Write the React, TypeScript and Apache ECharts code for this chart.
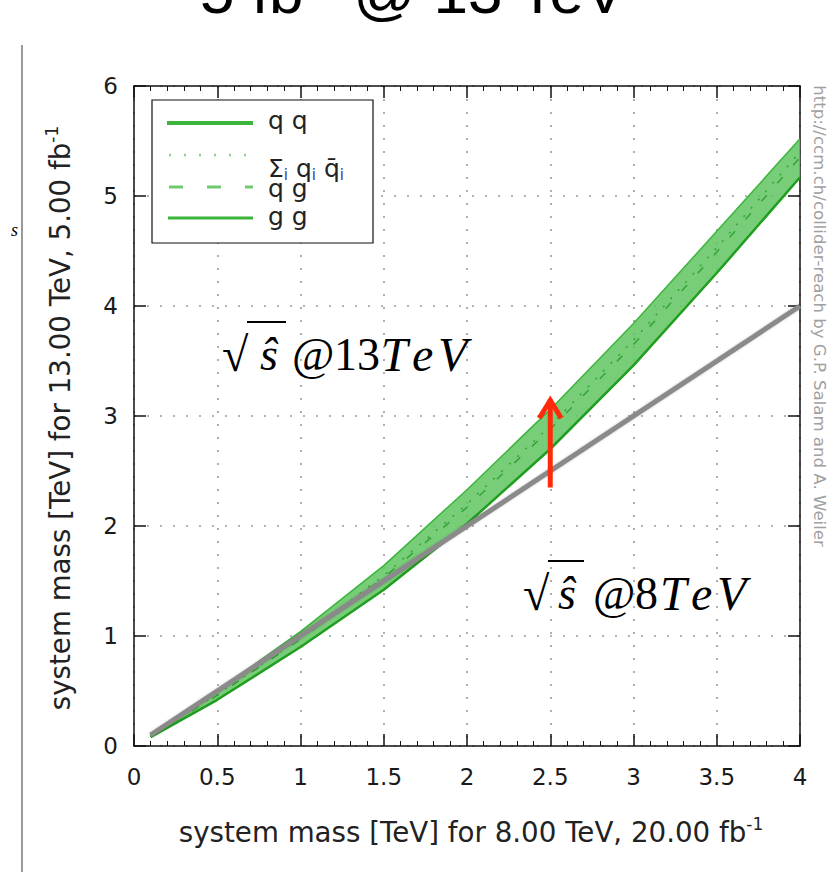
import React, { useEffect, useRef } from 'react';
import * as echarts from 'echarts';

// ---- data ----
const massX8 = [0.1, 0.5, 1.0, 1.5, 2.0, 2.5, 3.0, 3.5, 4.0];
const qqUpper = [0.1, 0.5, 1.04, 1.64, 2.33, 3.06, 3.84, 4.68, 5.52];
const ggLower = [0.08, 0.42, 0.9, 1.42, 2.02, 2.7, 3.46, 4.3, 5.17];
const qgMid = [0.09, 0.46, 0.97, 1.53, 2.17, 2.88, 3.65, 4.49, 5.35];
const sumQQbar = [0.09, 0.47, 0.98, 1.55, 2.2, 2.91, 3.69, 4.53, 5.4];
const refX = [0.1, 4.0];
const refY = [0.1, 4.0];
const arrowX = 2.5;
const arrowFrom = 2.35;
const arrowTo = 3.17;
const xTicks = [0, 0.5, 1, 1.5, 2, 2.5, 3, 3.5, 4];
const yTicks = [0, 1, 2, 3, 4, 5, 6];

const GREEN_FILL = 'rgba(96, 198, 96, 0.85)';
const GREEN_DARK = '#1f9e1f';
const GREEN_LINE = '#3bb53b';
const AX = '#111';
const FONT = 'DejaVu Sans';
const SERIF = 'Liberation Serif';

const pairs = (xs: number[], ys: number[]) => xs.map((x, i) => [x, ys[i]]);

const tok = (size: number, width: number, italic = false) => ({
  fontSize: size, fontFamily: SERIF, fontStyle: italic ? 'italic' : 'normal', fill: '#000', width, lineHeight: 56,
});
const anno13Rich = {
  q: tok(48, 38), s: tok(46, 32, true), at: tok(46, 42), n: tok(46, 47),
  T: tok(48, 31, true), e: tok(48, 26, true), V: tok(48, 40, true),
};
const anno8Rich = {
  q: tok(48, 35), s: tok(46, 35, true), at: tok(46, 42), n: tok(46, 25),
  T: tok(48, 31, true), e: tok(48, 26, true), V: tok(48, 40, true),
};

export default function App() {
  const ref = useRef<HTMLDivElement>(null);
  useEffect(() => {
    const chart = echarts.init(ref.current!, null, { renderer: 'svg' });
    const axisLine = { show: true, onZero: false, lineStyle: { color: AX, width: 1.5 } };
    const tick = { show: true, inside: true, length: 12, lineStyle: { color: AX, width: 1.5 } };
    const xMinor = { show: true, splitNumber: 5, length: 5, lineStyle: { color: AX, width: 1 } };
    const grid = { show: true, lineStyle: { color: '#9a9a9a', type: [2, 11], width: 1.6 } };
    const labelStyle = { fontSize: 23, fontFamily: FONT, color: '#1a1a1a' };
    const nameRich = {
      a: { fontSize: 27.7, fontFamily: FONT, fill: '#222', lineHeight: 34 },
      s: { fontSize: 17, fontFamily: FONT, fill: '#222', verticalAlign: 'top', lineHeight: 34 },
    };
    const legText = { fontFamily: FONT, fontSize: 25, fill: '#222', verticalAlign: 'middle' };
    const option: any = {
      animation: false,
      backgroundColor: '#ffffff',
      grid: { left: 134, right: 36, top: 86, bottom: 139, containLabel: false },
      xAxis: [
        {
          type: 'value', min: xTicks[0], max: xTicks[xTicks.length - 1], interval: 0.5, position: 'bottom',
          axisLine, axisTick: tick, minorTick: xMinor, splitLine: grid,
          axisLabel: { ...labelStyle, margin: 19, formatter: (v: number) => String(v) },
        },
        {
          type: 'value', min: xTicks[0], max: xTicks[xTicks.length - 1], interval: 0.5, position: 'top',
          axisLine, axisTick: tick, minorTick: xMinor, splitLine: { show: false }, axisLabel: { show: false },
        },
      ],
      yAxis: [
        {
          type: 'value', min: yTicks[0], max: yTicks[yTicks.length - 1], interval: 1, position: 'left',
          axisLine, axisTick: tick, splitLine: grid,
          axisLabel: { ...labelStyle, margin: 16 },
        },
        {
          type: 'value', min: yTicks[0], max: yTicks[yTicks.length - 1], interval: 1, position: 'right',
          axisLine, axisTick: tick, splitLine: { show: false }, axisLabel: { show: false },
        },
      ],
      series: [
        {
          name: 'band', type: 'custom', z: 2, silent: true, clip: true,
          data: [[massX8[0], ggLower[0]]],
          renderItem: (params: any, api: any) => {
            const top = massX8.map((x, i) => api.coord([x, qqUpper[i]]));
            const bot = massX8.map((x, i) => api.coord([x, ggLower[i]])).reverse();
            return { type: 'polygon', shape: { points: top.concat(bot) }, style: { fill: GREEN_FILL, stroke: 'none' } };
          },
        },
        {
          name: 'q q', type: 'line', data: pairs(massX8, qqUpper), symbol: 'none',
          lineStyle: { color: GREEN_LINE, width: 1.5 }, z: 3,
        },
        {
          name: 'Σ qq̄', type: 'line', data: pairs(massX8, sumQQbar), symbol: 'none',
          lineStyle: { color: '#35a335', width: 1.5, type: [2, 9] }, z: 3,
        },
        {
          name: 'q g', type: 'line', data: pairs(massX8, qgMid), symbol: 'none',
          lineStyle: { color: '#35a335', width: 1.5, type: [8, 16] }, z: 3,
        },
        {
          name: 'g g', type: 'line', data: pairs(massX8, ggLower), symbol: 'none',
          lineStyle: { color: GREEN_DARK, width: 2.5 }, z: 3,
        },
        {
          name: '8 TeV', type: 'line', data: pairs(refX, refY), symbol: 'none',
          lineStyle: { color: '#8a8a8a', width: 5, shadowColor: 'rgba(0,0,0,0.25)', shadowBlur: 2 }, z: 4,
        },
        {
          name: 'arrow', type: 'custom', z: 6, silent: true,
          data: [[arrowX, arrowTo]],
          renderItem: (params: any, api: any) => {
            const p0 = api.coord([arrowX, arrowFrom]);
            const p1 = api.coord([arrowX, arrowTo]);
            return {
              type: 'group',
              children: [
                { type: 'line', shape: { x1: p0[0], y1: p0[1], x2: p1[0], y2: p1[1] + 2 }, style: { stroke: '#ff2a0a', lineWidth: 5 } },
                {
                  type: 'polyline',
                  shape: { points: [[p1[0] - 11, p1[1] + 21], [p1[0], p1[1] + 3], [p1[0] + 11, p1[1] + 21]] },
                  style: { stroke: '#ff2a0a', lineWidth: 5, fill: 'none', lineJoin: 'miter' },
                },
              ],
            };
          },
        },
      ],
      graphic: [
        // title (cut off at the top)
        {
          type: 'text', x: 413, y: 25, z: 20,
          style: {
            text: '{a|5 fb}{s|-1}{a| @ 13 TeV}', align: 'center', verticalAlign: 'bottom',
            rich: {
              a: { fontSize: 62, fontFamily: 'Liberation Sans', fill: '#000', lineHeight: 68 },
              s: { fontSize: 36, fontFamily: 'Liberation Sans', fill: '#000', verticalAlign: 'top', lineHeight: 68 },
            },
          },
        },
        // left gray slide border
        { type: 'line', shape: { x1: 22, y1: 45, x2: 22, y2: 872 }, style: { stroke: '#9a9a9a', lineWidth: 2 }, z: 20 },
        { type: 'text', x: 11, y: 230, z: 21, style: { text: 's', fontFamily: SERIF, fontStyle: 'italic', fontSize: 18, fill: '#000', verticalAlign: 'middle' } },
        // y axis name
        {
          type: 'text', x: 60, y: 418, rotation: Math.PI / 2, z: 20,
          style: { text: '{a|system mass [TeV] for 13.00 TeV, 5.00 fb}{s|-1}', align: 'center', verticalAlign: 'middle', rich: nameRich },
        },
        // x axis name
        {
          type: 'text', x: 471, y: 832, z: 20,
          style: { text: '{a|system mass [TeV] for 8.00 TeV, 20.00 fb}{s|-1}', align: 'center', verticalAlign: 'middle', rich: nameRich },
        },
        // credit
        {
          type: 'text', x: 819, y: 316, rotation: -Math.PI / 2, z: 20,
          style: { text: 'http://ccm.ch/collider-reach by G.P. Salam and A. Weiler', fontFamily: FONT, fontSize: 16.6, fill: '#a0a0a0', align: 'center', verticalAlign: 'middle' },
        },
        // legend box
        { type: 'rect', shape: { x: 152, y: 100, width: 221, height: 143 }, style: { fill: '#fff', stroke: '#111', lineWidth: 1.2 }, z: 20 },
        { type: 'line', shape: { x1: 167, y1: 123, x2: 253, y2: 123 }, style: { stroke: GREEN_LINE, lineWidth: 4 }, z: 21 },
        { type: 'line', shape: { x1: 169, y1: 155, x2: 253, y2: 155 }, style: { stroke: '#86d486', lineWidth: 2.5, lineDash: [2, 13] }, z: 21 },
        { type: 'line', shape: { x1: 169, y1: 187, x2: 253, y2: 187 }, style: { stroke: '#6fca6f', lineWidth: 3, lineDash: [14, 24] }, z: 21 },
        { type: 'line', shape: { x1: 168, y1: 218, x2: 253, y2: 218 }, style: { stroke: GREEN_LINE, lineWidth: 3 }, z: 21 },
        { type: 'text', x: 268, y: 120, z: 21, style: { text: 'q q', ...legText } },
        {
          type: 'text', x: 268, y: 168, z: 21,
          style: {
            text: '{a|Σ}{b|i}{a| q}{b|i}{a| q̄}{b|i}', verticalAlign: 'middle',
            rich: {
              a: { fontSize: 25, fontFamily: FONT, fill: '#222', lineHeight: 28 },
              b: { fontSize: 15, fontFamily: FONT, fill: '#3a3aa0', verticalAlign: 'bottom', lineHeight: 22 },
            },
          },
        },
        { type: 'text', x: 268, y: 188, z: 21, style: { text: 'q g', ...legText } },
        { type: 'text', x: 268, y: 216, z: 21, style: { text: 'g g', ...legText } },
        // annotations
        {
          type: 'text', x: 222, y: 354, z: 21,
          style: { text: '{q|√}{s|ŝ}{at|@}{n|13}{T|T}{e|e}{V|V}', verticalAlign: 'middle', rich: anno13Rich },
        },
        { type: 'line', shape: { x1: 247, y1: 322, x2: 286, y2: 322 }, style: { stroke: '#000', lineWidth: 2 }, z: 21 },
        {
          type: 'text', x: 523, y: 593, z: 21,
          style: { text: '{q|√}{s|ŝ}{at|@}{n|8}{T|T}{e|e}{V|V}', verticalAlign: 'middle', rich: anno8Rich },
        },
        { type: 'line', shape: { x1: 548, y1: 561, x2: 584, y2: 561 }, style: { stroke: '#000', lineWidth: 2 }, z: 21 },
      ],
    };
    chart.setOption(option);
    return () => chart.dispose();
  }, []);
  return <div ref={ref} style={{ position: 'absolute', left: 0, top: 0, width: 836, height: 885 }} />;
}
